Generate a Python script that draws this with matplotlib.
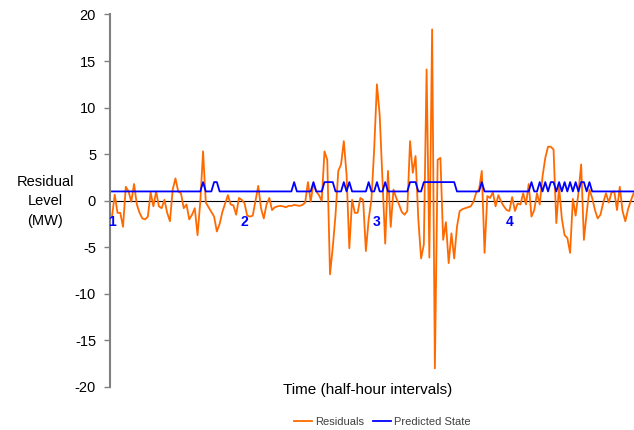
import matplotlib
matplotlib.use("Agg")
import matplotlib.pyplot as plt
import numpy as np

plt.rcParams["axes.unicode_minus"] = False

# ── data (half-hour residuals, MW) ─────────────────────────────────────────
residuals = [
    -1.7, 0.65, -1.3, -1.3, -2.8, 1.5, 1.0, -0.1, 1.8, -0.4,
    -1.3, -1.9, -2.0, -1.7, 0.9, -0.6, 1.0, -0.6, -0.8, 0.1,
    -1.3, -2.2, 1.2, 2.4, 1.0, 0.8, -0.8, -0.4, -2.0, -1.5,
    -0.8, -3.7, -0.1, 5.3, -0.2, -0.7, -1.2, -1.7, -3.3, -2.5,
    -1.2, -0.3, 0.6, -0.4, -0.5, -1.5, 0.3, 0.1, -0.25, -1.6,
    -1.7, -1.6, 0.0, 1.6, -0.8, -1.9, -0.4, 0.3, -1.0, -0.7,
    -0.6, -0.55, -0.6, -0.7, -0.55, -0.55, -0.45, -0.5, -0.55, -0.45,
    -0.2, 2.0, -0.1, 1.9, 1.0, 0.6, 0.0, 5.3, 4.4, -7.9,
    -5.0, -1.5, 3.2, 3.9, 6.4, 2.8, -5.1, 0.1, -1.3, -1.3,
    0.3, 0.1, -5.4, -2.0, 0.1, 5.5, 12.5, 9.2, 2.3, -4.6,
    3.2, -2.8, 1.2, 0.3, -0.4, -1.2, -1.5, -1.1, 6.4, 3.0,
    4.8, -2.0, -6.2, -4.7, 14.1, -6.1, 18.4, -18.0, 4.4, 4.6,
    -4.2, -2.3, -6.7, -3.5, -6.2, -2.8, -1.1, -0.9, -0.8, -0.7,
    -0.6, -0.1, 0.9, 1.2, 3.2, -5.6, 0.5, 0.3, 0.9, -0.6,
    0.6, -0.1, -0.6, -1.0, -1.1, 0.4, -1.1, -0.3, -0.4, 0.8,
    -0.4, 1.8, -1.7, -1.0, 0.8, -0.4, 2.6, 4.6, 5.8, 5.8,
    5.5, -2.4, 1.5, -1.9, -3.7, -4.0, -5.6, 0.2, -1.6, 0.8,
    3.9, -4.2, -1.3, 1.2, 0.3, -1.0, -1.9, -1.5, -0.2, 0.8,
    -0.2, 0.9, 1.0, -1.0, 1.5, -1.1, -2.2, -0.9, 0.0, 0.8,
]

# predicted state: 1 everywhere except these intervals
state_two = [33, 37, 38, 66, 73, 77, 78, 79, 80, 84, 86, 93, 96, 99,
             108, 109, 110] + list(range(113, 125)) + \
            [134, 152, 155, 157, 159, 160, 162, 164, 166, 168, 170, 171, 173]

day_starts = [0, 48, 96, 144]
day_labels = ["1", "2", "3", "4"]

predicted = np.ones(len(residuals))
predicted[state_two] = 2
t = np.arange(len(residuals))

ORANGE = "#FF6A00"
BLUE = "#0000FF"
GREY = "#808080"

fig = plt.figure(figsize=(6.34, 4.30), dpi=100)
ax = fig.add_axes([0.1735, 0.1, 0.8265, 0.8663])

ax.axhline(0, color="black", lw=0.8, zorder=1)
ax.plot(t, residuals, color=ORANGE, lw=1.3, label="Residuals", zorder=2)
ax.plot(t, predicted, color=BLUE, lw=1.3, label="Predicted State", zorder=3)

for x, lbl in zip(day_starts, day_labels):
    ax.text(x, -2.25, lbl, color=BLUE, fontsize=10, fontweight="bold",
            ha="center", va="center", family="Liberation Sans", zorder=4)

ax.set_xlim(-0.72, 189.15)
ax.set_ylim(-20, 20)
ax.set_yticks(range(-20, 21, 5))
ax.set_xticks([])
for s in ("top", "right", "bottom"):
    ax.spines[s].set_visible(False)
ax.spines["left"].set_color(GREY)
ax.spines["left"].set_linewidth(1.5)
ax.tick_params(axis="y", length=4, width=1, color=GREY, pad=6,
               labelsize=10.5)
for lab in ax.get_yticklabels():
    lab.set_family("Liberation Sans")

fig.text(45 / 634, 1 - 201 / 430, "Residual\nLevel\n(MW)", ha="center",
         va="center", fontsize=10.5, linespacing=1.5, family="Liberation Sans")
fig.text(368 / 634, 1 - 390 / 430, "Time (half-hour intervals)", ha="center",
         va="center", fontsize=11, family="Liberation Sans")

leg = fig.legend(loc="center", bbox_to_anchor=(0.603, 0.018), ncol=2,
                 frameon=False, handlelength=1.6,
                 columnspacing=0.8, handletextpad=0.3,
                 prop={"family": "Liberation Sans", "size": 8})
for txt in leg.get_texts():
    txt.set_color("#404040")

fig.savefig("out.png", dpi=100)
